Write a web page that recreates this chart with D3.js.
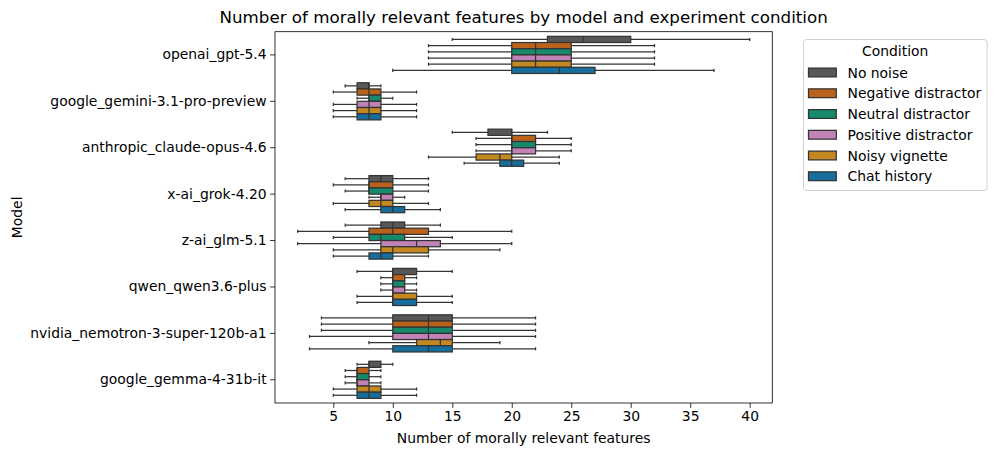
<!DOCTYPE html>
<html>
<head>
<meta charset="utf-8">
<script src="https://cdn.jsdelivr.net/npm/d3@7"></script>
<style>
	body { margin: 0; background: #fff; }
	svg { display: block; font-family: "DejaVu Sans", sans-serif; }
</style>
</head>
<body>
<div id="chart"></div>
<script>

// models, top to bottom
const models = [
	'openai_gpt-5.4'
	, 'google_gemini-3.1-pro-preview'
	, 'anthropic_claude-opus-4.6'
	, 'x-ai_grok-4.20'
	, 'z-ai_glm-5.1'
	, 'qwen_qwen3.6-plus'
	, 'nvidia_nemotron-3-super-120b-a1'
	, 'google_gemma-4-31b-it'
]

const conditions = ['No noise', 'Negative distractor', 'Neutral distractor', 'Positive distractor', 'Noisy vignette', 'Chat history']

const colors = ['#575757', '#ba611b', '#168a6a', '#c182b6', '#c38820', '#176d9c']

// [low whisker, q1, median, q3, high whisker], one per model
const noNoise = [[15, 23, 26, 30, 40], [6, 7, 8, 8, 9], [15, 18, 20, 20, 23], [6, 8, 9, 10, 13], [6, 9, 10, 11, 14], [7, 10, 10, 12, 15], [4, 10, 13, 15, 22], [7, 8, 8, 9, 10]]
const negative = [[13, 20, 22, 25, 32], [5, 7, 8, 9, 12], [17, 20, 20, 22, 25], [5, 8, 8, 10, 13], [2, 8, 10, 13, 20], [9, 10, 10, 11, 12], [4, 10, 13, 15, 22], [6, 7, 7, 8, 9]]
const neutral = [[13, 20, 22, 25, 32], [7, 8, 8, 9, 10], [17, 20, 20, 22, 25], [6, 8, 8, 10, 13], [5, 8, 9, 11, 15], [9, 10, 10, 11, 12], [4, 10, 13, 15, 22], [6, 7, 7, 8, 9]]
const positive = [[13, 20, 22, 25, 32], [5, 7, 8, 9, 12], [17, 20, 20, 22, 25], [8, 9, 9, 10, 11], [2, 9, 12, 14, 20], [9, 10, 10, 11, 12], [3, 10, 13, 15, 22], [6, 7, 7, 8, 9]]
const noisy = [[13, 20, 22, 25, 32], [5, 7, 8, 9, 12], [13, 17, 19, 20, 24], [5, 8, 9, 10, 13], [5, 9, 10, 13, 19], [7, 10, 10, 12, 15], [8, 12, 14, 15, 19], [5, 7, 8, 9, 12]]
const chat = [[10, 20, 24, 27, 37], [5, 7, 8, 9, 12], [16, 19, 20, 21, 24], [6, 9, 10, 11, 14], [5, 8, 9, 10, 13], [7, 10, 10, 12, 15], [3, 10, 13, 15, 22], [5, 7, 8, 9, 12]]

const series = [noNoise, negative, neutral, positive, noisy, chat]

const xTicks = [5, 10, 15, 20, 25, 30, 35, 40]

let width = 996
	, height = 455
	, margin = {left: 275, right: 996 - 772.3, top: 31.7, bottom: 455 - 403}
	, lineColor = '#343434'

const svg = d3.select('#chart').append('svg')
	.attr('width', width)
	.attr('height', height)

const x = d3.scaleLinear()
	.domain([0.1, 41.9])
	.range([margin.left, width - margin.right])

const y = d3.scaleBand()
	.domain(models)
	.range([margin.top, height - margin.bottom])

// dodge inside each model band, 0.8 of the band like seaborn
const hue = d3.scaleBand()
	.domain(conditions)
	.range([y.bandwidth() * 0.1, y.bandwidth() * 0.9])

// axes
const xAxis = svg.append('g')
	.attr('transform', 'translate(0,' + (height - margin.bottom) + ')')
	.call(d3.axisBottom(x).tickValues(xTicks).tickSize(4.9).tickPadding(3.5))

const yAxis = svg.append('g')
	.attr('transform', 'translate(' + margin.left + ',0)')
	.call(d3.axisLeft(y).tickSize(4.9).tickPadding(3.5))

svg.selectAll('.tick text')
	.style('font-size', '13.9px')
	.style('font-family', '"DejaVu Sans", sans-serif')
	.attr('fill', '#000')
svg.selectAll('.tick line').attr('stroke', '#000').attr('stroke-width', 0.8)
svg.selectAll('.domain').remove()

// boxes
const boxH = hue.bandwidth()
	, capH = boxH * 0.5

const plot = svg.append('g')

series.forEach(function (vals, ci) {
	vals.forEach(function (s, mi) {
		let cy = y(models[mi]) + hue(conditions[ci]) + boxH / 2
			, g = plot.append('g')

		// whiskers
		g.append('line')
			.attr('x1', x(s[0])).attr('x2', x(s[1]))
			.attr('y1', cy).attr('y2', cy)
		g.append('line')
			.attr('x1', x(s[3])).attr('x2', x(s[4]))
			.attr('y1', cy).attr('y2', cy)
		// caps
		g.append('line')
			.attr('x1', x(s[0])).attr('x2', x(s[0]))
			.attr('y1', cy - capH / 2).attr('y2', cy + capH / 2)
		g.append('line')
			.attr('x1', x(s[4])).attr('x2', x(s[4]))
			.attr('y1', cy - capH / 2).attr('y2', cy + capH / 2)

		g.append('rect')
			.attr('x', x(s[1]))
			.attr('y', cy - boxH / 2)
			.attr('width', x(s[3]) - x(s[1]))
			.attr('height', boxH)
			.attr('fill', colors[ci])

		// median
		g.append('line')
			.attr('x1', x(s[2])).attr('x2', x(s[2]))
			.attr('y1', cy - boxH / 2).attr('y2', cy + boxH / 2)

		g.selectAll('line, rect')
			.attr('stroke', lineColor)
			.attr('stroke-width', 1.25)
	})
})

// frame
svg.append('rect')
	.attr('x', margin.left)
	.attr('y', margin.top)
	.attr('width', x.range()[1] - margin.left)
	.attr('height', y.range()[1] - margin.top)
	.attr('fill', 'none')
	.attr('stroke', '#000')
	.attr('stroke-width', 0.8)

// title and labels
svg.append('text')
	.attr('x', (margin.left + x.range()[1]) / 2)
	.attr('y', 23)
	.attr('text-anchor', 'middle')
	.style('font-size', '16.7px')
	.text('Number of morally relevant features by model and experiment condition')

svg.append('text')
	.attr('x', (margin.left + x.range()[1]) / 2)
	.attr('y', 443)
	.attr('text-anchor', 'middle')
	.style('font-size', '13.9px')
	.text('Number of morally relevant features')

svg.append('text')
	.attr('transform', 'translate(22,' + ((margin.top + y.range()[1]) / 2) + ') rotate(-90)')
	.attr('text-anchor', 'middle')
	.style('font-size', '13.9px')
	.text('Model')

// legend
const legend = svg.append('g')
	.attr('transform', 'translate(803.5,39.5)')

legend.append('rect')
	.attr('width', 183.5)
	.attr('height', 151)
	.attr('rx', 3)
	.attr('fill', '#fff')
	.attr('fill-opacity', 0.8)
	.attr('stroke', '#d0d0d0')
	.attr('stroke-width', 1)

legend.append('text')
	.attr('x', 91.7)
	.attr('y', 16.5)
	.attr('text-anchor', 'middle')
	.style('font-size', '13.9px')
	.text('Condition')

conditions.forEach(function (c, i) {
	let ly = 33 + i * 20.75
	legend.append('rect')
		.attr('x', 5)
		.attr('y', ly - 4.4)
		.attr('width', 27.8)
		.attr('height', 8.8)
		.attr('fill', colors[i])
		.attr('stroke', lineColor)
		.attr('stroke-width', 1.25)
	legend.append('text')
		.attr('x', 44)
		.attr('y', ly + 5)
		.style('font-size', '13.9px')
		.text(c)
})

</script>
</body>
</html>
